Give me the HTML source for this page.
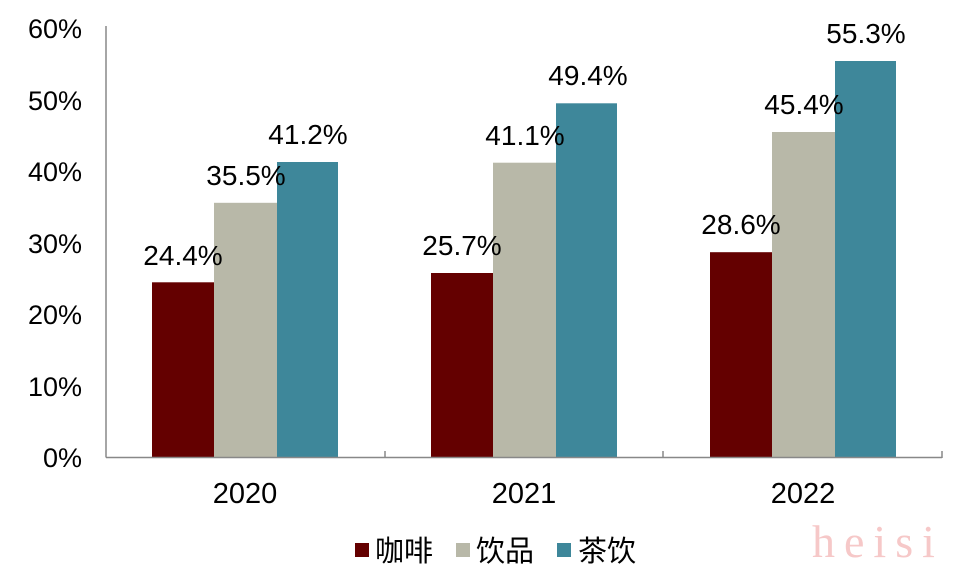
<!DOCTYPE html>
<html><head><meta charset="utf-8"><style>
html,body{margin:0;padding:0;background:#fff;}
svg text{font-family:"Liberation Sans","Noto Sans CJK SC",sans-serif;fill:#000;}
</style></head><body>
<svg width="957" height="571" viewBox="0 0 957 571" xmlns="http://www.w3.org/2000/svg">
<g font-size="27" text-anchor="end">
<text x="82" y="38">60%</text>
<text x="82" y="110">50%</text>
<text x="82" y="181">40%</text>
<text x="82" y="253">30%</text>
<text x="82" y="324">20%</text>
<text x="82" y="396">10%</text>
<text x="82" y="467">0%</text>
</g>
<rect x="152" y="282.3" width="62" height="174.7" fill="#640000"/>
<rect x="214" y="202.8" width="63" height="254.2" fill="#b8b8a8"/>
<rect x="277" y="162" width="61" height="295" fill="#3e879a"/>
<rect x="431" y="273" width="62" height="184" fill="#640000"/>
<rect x="493" y="162.7" width="63" height="294.3" fill="#b8b8a8"/>
<rect x="556" y="103.3" width="61" height="353.7" fill="#3e879a"/>
<rect x="710" y="252.2" width="62" height="204.8" fill="#640000"/>
<rect x="772" y="132" width="63" height="325" fill="#b8b8a8"/>
<rect x="835" y="61" width="61" height="396" fill="#3e879a"/>
<line x1="106" y1="26" x2="106" y2="457.5" stroke="#888" stroke-width="1.5"/>
<line x1="106" y1="457.5" x2="942" y2="457.5" stroke="#888" stroke-width="1.5"/>
<line x1="385" y1="451" x2="385" y2="458" stroke="#888" stroke-width="1.5"/>
<line x1="663" y1="451" x2="663" y2="458" stroke="#888" stroke-width="1.5"/>
<line x1="942" y1="451" x2="942" y2="458" stroke="#888" stroke-width="1.5"/>
<g font-size="28" text-anchor="middle">
<text x="183" y="265">24.4%</text>
<text x="246" y="185">35.5%</text>
<text x="308" y="144">41.2%</text>
<text x="462" y="255">25.7%</text>
<text x="525" y="145">41.1%</text>
<text x="588" y="85">49.4%</text>
<text x="741" y="234">28.6%</text>
<text x="804" y="114">45.4%</text>
<text x="866" y="43">55.3%</text>
</g>
<g font-size="29" text-anchor="middle">
<text x="245" y="503">2020</text>
<text x="524" y="503">2021</text>
<text x="803" y="503">2022</text>
</g>
<rect x="355" y="543" width="14" height="14" fill="#640000"/>
<text x="375" y="561" font-size="29">咖啡</text>
<rect x="456" y="543" width="14" height="14" fill="#b8b8a8"/>
<text x="476" y="561" font-size="29">饮品</text>
<rect x="557" y="543" width="14" height="14" fill="#3e879a"/>
<text x="578" y="561" font-size="29">茶饮</text>
<text x="812" y="557" font-size="46" style="font-family:'Liberation Serif',serif;fill:#f6c8c8" letter-spacing="9">heisi</text>
</svg>
</body></html>
